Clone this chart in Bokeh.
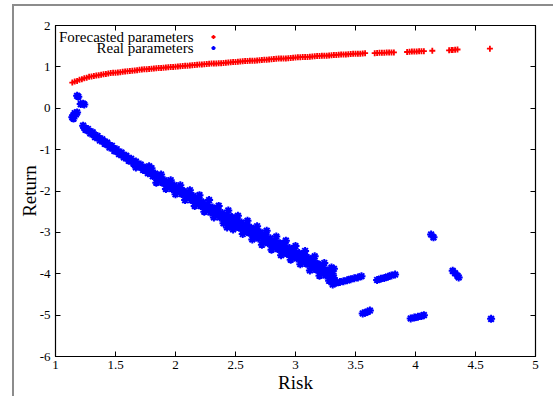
from bokeh.plotting import figure
from bokeh.models import (LinearAxis, FixedTicker, Legend, LegendItem, Label,
                          ColumnDataSource, Range1d)
from bokeh.layouts import column
from bokeh.embed import file_html
from bokeh.resources import INLINE

# ---------------- data ----------------
x_ticks = [1, 1.5, 2, 2.5, 3, 3.5, 4, 4.5, 5]
x_tick_labels = ["1", "1.5", "2", "2.5", "3", "3.5", "4", "4.5", "5"]
y_ticks = [-6, -5, -4, -3, -2, -1, 0, 1, 2]
y_tick_labels = ["-6", "-5", "-4", "-3", "-2", "-1", "0", "1", "2"]
series_names = ["Forecasted parameters", "Real parameters"]

forecast_a_x = [1.14, 1.18, 1.22, 1.26, 1.30, 1.34, 1.38, 1.42, 1.46, 1.50, 1.54, 1.58,
                1.62, 1.66, 1.70, 1.74, 1.78, 1.82, 1.86, 1.90, 1.94, 1.98, 2.02, 2.06,
                2.10, 2.14, 2.18, 2.22, 2.26, 2.30, 2.34, 2.38, 2.42, 2.46, 2.50, 2.54,
                2.58, 2.62, 2.66, 2.70, 2.74, 2.78, 2.82, 2.86, 2.90, 2.94, 2.98, 3.02,
                3.06, 3.10, 3.14, 3.18, 3.22, 3.26, 3.30, 3.34, 3.38, 3.42, 3.46, 3.50,
                3.54, 3.58,
                3.66, 3.70, 3.74, 3.78, 3.82,
                3.93, 3.97, 4.01, 4.05, 4.07,
                4.14,
                4.28, 4.31, 4.35,
                4.62]
forecast_a_y = [0.62, 0.66, 0.70, 0.74, 0.77, 0.79, 0.81, 0.83, 0.85, 0.86, 0.87, 0.89,
                0.90, 0.91, 0.93, 0.94, 0.95, 0.96, 0.97, 0.98, 0.99, 1.00, 1.01, 1.02,
                1.03, 1.04, 1.05, 1.06, 1.07, 1.08, 1.08, 1.09, 1.10, 1.11, 1.12, 1.13,
                1.14, 1.15, 1.15, 1.16, 1.17, 1.18, 1.19, 1.20, 1.20, 1.21, 1.22, 1.23,
                1.24, 1.24, 1.25, 1.26, 1.27, 1.27, 1.28, 1.29, 1.30, 1.30, 1.31, 1.32,
                1.32, 1.33,
                1.33, 1.34, 1.34, 1.35, 1.35,
                1.36, 1.37, 1.37, 1.38, 1.38,
                1.39,
                1.40, 1.41, 1.42,
                1.44]
forecast_b_x = [1.16, 1.20, 1.24, 1.28, 1.32, 1.36, 1.40, 1.44, 1.48, 1.52, 1.56, 1.60,
                1.64, 1.68, 1.72, 1.76, 1.80, 1.84, 1.88, 1.92, 1.96, 2.00, 2.04, 2.08,
                2.12, 2.16, 2.20, 2.24, 2.28, 2.32, 2.36, 2.40, 2.44, 2.48, 2.52, 2.56,
                2.60, 2.64, 2.68, 2.72, 2.76, 2.80, 2.84, 2.88, 2.92, 2.96, 3.00, 3.04,
                3.08, 3.12, 3.16, 3.20, 3.24, 3.28, 3.32, 3.36, 3.40, 3.44, 3.48, 3.52,
                3.56, 3.68, 3.72, 3.76, 3.80, 3.95, 3.99, 4.03, 4.30, 4.33]
forecast_b_y = [0.645, 0.69, 0.725, 0.76, 0.78, 0.80, 0.82, 0.84, 0.855, 0.865, 0.88, 0.895,
                0.905, 0.92, 0.935, 0.945, 0.955, 0.965, 0.975, 0.985, 0.995, 1.005, 1.015, 1.025,
                1.035, 1.045, 1.055, 1.065, 1.075, 1.08, 1.085, 1.095, 1.105, 1.115, 1.125, 1.135,
                1.145, 1.15, 1.155, 1.165, 1.175, 1.185, 1.195, 1.20, 1.205, 1.215, 1.225, 1.235,
                1.24, 1.245, 1.255, 1.265, 1.27, 1.275, 1.285, 1.295, 1.30, 1.305, 1.315, 1.32,
                1.325, 1.335, 1.34, 1.345, 1.35, 1.365, 1.37, 1.375, 1.405, 1.415]

# real parameters: small clusters near the start
real_start_x = [1.18, 1.19, 1.21, 1.23, 1.24, 1.14, 1.15, 1.16, 1.17, 1.18, 1.15]
real_start_y = [0.30, 0.28, 0.10, 0.11, 0.09, -0.22, -0.17, -0.12, -0.15, -0.10, -0.25]

# real parameters: main band, upper edge
real_upper_x = [1.23, 1.27, 1.31, 1.35, 1.39, 1.43, 1.47, 1.51, 1.55, 1.59, 1.63, 1.67,
                1.71, 1.75, 1.79, 1.83, 1.87, 1.91, 1.95, 1.99, 2.03, 2.07, 2.11, 2.15,
                2.19, 2.23, 2.27, 2.31, 2.35, 2.39, 2.43, 2.47, 2.51, 2.55, 2.59, 2.63,
                2.67, 2.71, 2.75, 2.79, 2.83, 2.87, 2.91, 2.95, 2.99, 3.03, 3.07, 3.11,
                3.15, 3.19, 3.23, 3.27, 3.31]
real_upper_y = [-0.42, -0.50, -0.58, -0.67, -0.75, -0.83, -0.91, -0.99, -1.07, -1.15, -1.22, -1.29,
                -1.36, -1.44, -1.51, -1.58, -1.66, -1.74, -1.79, -1.86, -1.94, -2.00, -2.05, -2.12,
                -2.19, -2.27, -2.33, -2.40, -2.46, -2.53, -2.58, -2.63, -2.70, -2.76, -2.82, -2.89,
                -2.95, -3.00, -3.06, -3.14, -3.21, -3.26, -3.31, -3.38, -3.44, -3.50, -3.56, -3.62,
                -3.70, -3.77, -3.85, -3.92, -4.00]

# real parameters: main band, middle
real_mid_x = [1.24, 1.28, 1.32, 1.36, 1.40, 1.44, 1.48, 1.52, 1.56, 1.60, 1.64, 1.68,
              1.72, 1.76, 1.80, 1.84, 1.88, 1.92, 1.96, 2.00, 2.04, 2.08, 2.12, 2.16,
              2.20, 2.24, 2.28, 2.32, 2.36, 2.40, 2.44, 2.48, 2.52, 2.56, 2.60, 2.64,
              2.68, 2.72, 2.76, 2.80, 2.84, 2.88, 2.92, 2.96, 3.00, 3.04, 3.08, 3.12,
              3.16, 3.20, 3.24, 3.28, 3.32]
real_mid_y = [-0.47, -0.55, -0.64, -0.72, -0.80, -0.89, -0.97, -1.05, -1.13, -1.21, -1.28, -1.35,
              -1.42, -1.50, -1.57, -1.65, -1.73, -1.81, -1.87, -1.93, -2.01, -2.07, -2.13, -2.21,
              -2.28, -2.35, -2.42, -2.49, -2.55, -2.62, -2.69, -2.74, -2.80, -2.86, -2.92, -2.99,
              -3.05, -3.10, -3.16, -3.24, -3.31, -3.36, -3.42, -3.48, -3.54, -3.60, -3.66, -3.73,
              -3.80, -3.87, -3.95, -4.01, -4.10]

# real parameters: main band, lower edge
real_lower_x = [1.25, 1.29, 1.33, 1.37, 1.41, 1.45, 1.49, 1.53, 1.57, 1.61, 1.65, 1.69,
                1.73, 1.77, 1.81, 1.85, 1.89, 1.93, 1.97, 2.01, 2.05, 2.09, 2.13, 2.17,
                2.21, 2.25, 2.29, 2.33, 2.37, 2.41, 2.45, 2.49, 2.53, 2.57, 2.61, 2.65,
                2.69, 2.73, 2.77, 2.81, 2.85, 2.89, 2.93, 2.97, 3.01, 3.05, 3.09, 3.13,
                3.17, 3.21, 3.25, 3.29, 3.32]
real_lower_y = [-0.52, -0.61, -0.70, -0.78, -0.86, -0.95, -1.03, -1.11, -1.19, -1.27, -1.34, -1.41,
                -1.49, -1.57, -1.64, -1.71, -1.80, -1.88, -1.95, -2.01, -2.07, -2.14, -2.22, -2.30,
                -2.36, -2.44, -2.52, -2.58, -2.64, -2.71, -2.80, -2.84, -2.89, -2.95, -3.01, -3.09,
                -3.15, -3.20, -3.26, -3.33, -3.40, -3.46, -3.52, -3.58, -3.63, -3.69, -3.76, -3.83,
                -3.90, -3.97, -4.04, -4.10, -4.20]

# real parameters: outer fringe of the wider part of the band
real_fringe_hi_x = [1.80, 1.88, 1.96, 2.04, 2.12, 2.20, 2.28, 2.36, 2.44, 2.52, 2.60, 2.68,
                    2.76, 2.84, 2.92, 3.00, 3.08, 3.16, 3.24, 3.30]
real_fringe_hi_y = [-1.45, -1.60, -1.74, -1.86, -1.98, -2.10, -2.22, -2.36, -2.47, -2.60, -2.72, -2.85,
                    -2.96, -3.10, -3.20, -3.33, -3.45, -3.58, -3.74, -3.85]
real_fringe_lo_x = [1.84, 1.92, 2.00, 2.08, 2.16, 2.24, 2.32, 2.40, 2.48, 2.56, 2.64, 2.72,
                    2.80, 2.88, 2.96, 3.04, 3.12, 3.20, 3.28]
real_fringe_lo_y = [-1.80, -1.95, -2.08, -2.22, -2.36, -2.50, -2.64, -2.78, -2.93, -3.04, -3.17, -3.30,
                    -3.42, -3.55, -3.66, -3.77, -3.92, -4.05, -4.17]

# real parameters: scattered outliers around the band
real_out_x = [1.67, 1.78, 2.43, 2.46, 2.68, 2.90, 3.07, 3.18, 3.32, 3.31]
real_out_y = [-1.43, -1.40, -2.88, -2.86, -2.97, -3.27, -3.52, -3.76, -3.88, -4.26]

# real parameters: tail and separate clusters
real_tail_x = [3.34, 3.37, 3.40, 3.43, 3.46, 3.49, 3.52, 3.55,
               3.56, 3.58, 3.60, 3.62,
               3.68, 3.71, 3.74, 3.77, 3.80, 3.83,
               3.96, 3.99, 4.02, 4.05, 4.07,
               4.13, 4.15,
               4.31, 4.33, 4.35, 4.36,
               4.63]
real_tail_y = [-4.22, -4.20, -4.18, -4.16, -4.13, -4.11, -4.09, -4.06,
               -4.96, -4.94, -4.92, -4.89,
               -4.15, -4.12, -4.10, -4.07, -4.04, -4.02,
               -5.08, -5.06, -5.04, -5.02, -5.00,
               -3.05, -3.12,
               -3.93, -3.99, -4.05, -4.09,
               -5.09]

forecast_x = forecast_a_x + forecast_b_x
forecast_y = forecast_a_y + forecast_b_y
real_x = (real_start_x + real_upper_x + real_mid_x + real_lower_x + real_fringe_hi_x
          + real_fringe_lo_x + real_out_x + real_tail_x)
real_y = (real_start_y + real_upper_y + real_mid_y + real_lower_y + real_fringe_hi_y
          + real_fringe_lo_y + real_out_y + real_tail_y)

# ---------------- figure ----------------
FONT = "Liberation Serif"

p = figure(width=539, height=390, output_backend="svg", toolbar_location=None,
           x_range=Range1d(1, 5), y_range=Range1d(-6, 2),
           min_border_left=41, min_border_right=18, min_border_top=19, min_border_bottom=40)
p.xgrid.visible = False
p.ygrid.visible = False
p.outline_line_color = "black"
p.outline_line_width = 1.2
p.background_fill_color = "white"
p.border_fill_color = "white"

for ax, ticks, labels in ((p.xaxis[0], x_ticks, x_tick_labels), (p.yaxis[0], y_ticks, y_tick_labels)):
    ax.ticker = FixedTicker(ticks=ticks)
    ax.major_label_overrides = {t: l for t, l in zip(ticks, labels)}
    ax.major_tick_in = 5
    ax.major_tick_out = 0
    ax.minor_tick_in = 0
    ax.minor_tick_out = 0
    ax.axis_line_color = "black"
    ax.major_tick_line_color = "black"
    ax.major_label_text_font = FONT
    ax.major_label_text_font_size = "13px"
    ax.major_label_text_color = "black"
    ax.axis_label_text_font = FONT
    ax.axis_label_text_font_size = "19px"
    ax.axis_label_text_font_style = "normal"
    ax.axis_label_text_color = "black"

p.xaxis[0].axis_label = "Risk"
p.xaxis[0].major_label_standoff = 4
p.xaxis[0].axis_label_standoff = 0
p.yaxis[0].axis_label = "Return"
p.yaxis[0].major_label_standoff = 5
p.yaxis[0].axis_label_standoff = -3

# mirrored ticks on top and right (no labels)
top_ax = LinearAxis(ticker=FixedTicker(ticks=x_ticks), major_tick_in=5, major_tick_out=0,
                    minor_tick_in=0, minor_tick_out=0,
                    major_label_overrides={t: "" for t in x_ticks},
                    axis_line_color="black", major_tick_line_color="black")
right_ax = LinearAxis(ticker=FixedTicker(ticks=y_ticks), major_tick_in=5, major_tick_out=0,
                      minor_tick_in=0, minor_tick_out=0,
                      major_label_overrides={t: "" for t in y_ticks},
                      axis_line_color="black", major_tick_line_color="black")
p.add_layout(top_ax, "above")
p.add_layout(right_ax, "right")

fsrc = ColumnDataSource(data=dict(x=forecast_x, y=forecast_y))
rsrc = ColumnDataSource(data=dict(x=real_x, y=real_y))

r_fore = p.scatter("x", "y", source=fsrc, marker="cross", size=6, line_color="red",
                   line_width=1.8)
r_real = p.scatter("x", "y", source=rsrc, marker="asterisk", size=8, line_color="blue",
                   line_width=2)

# legend: samples from a Legend, texts right-aligned to the left of them (gnuplot style)
legend = Legend(items=[LegendItem(label=" ", renderers=[r_fore]),
                       LegendItem(label=" ", renderers=[r_real])],
                location=(153, 303), glyph_width=10, glyph_height=11, label_height=11,
                label_width=1, label_standoff=0, spacing=0,
                padding=0, margin=0, border_line_color=None, background_fill_alpha=0,
                label_text_font=FONT, label_text_font_size="8px")
p.add_layout(legend)

for name, ly in zip(series_names, [1.734, 1.468]):
    p.add_layout(Label(x=2.15, y=ly, text=name, text_align="right", text_baseline="middle",
                       text_font=FONT, text_font_size="15px", text_color="black"))

layout = column(p, margin=(4, 0, 0, 12),
                styles={"border-top": "2px solid #8c8c8c", "border-left": "2px solid #8c8c8c"})

open("out.html", "w").write(file_html(layout, INLINE))
